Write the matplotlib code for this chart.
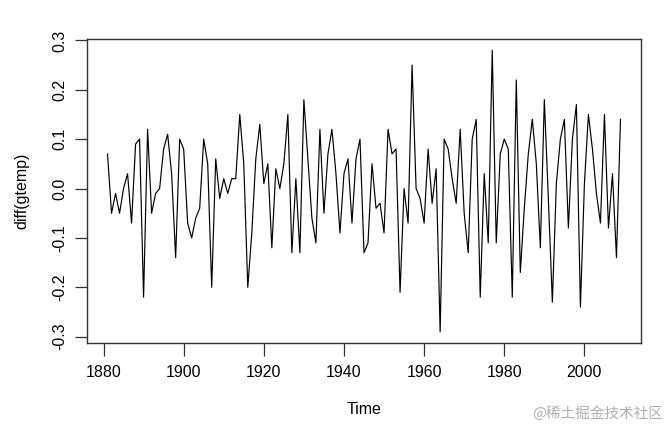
import matplotlib
matplotlib.use("Agg")
import matplotlib.pyplot as plt
import numpy as np

start_year = 1881
diff_gtemp = [
    0.07, -0.05, -0.01, -0.05, 0.00, 0.03, -0.07, 0.09, 0.10, -0.22,   # 1881-1890
    0.12, -0.05, -0.01, 0.00, 0.08, 0.11, 0.03, -0.14, 0.10, 0.08,     # 1891-1900
    -0.07, -0.10, -0.06, -0.04, 0.10, 0.05, -0.20, 0.06, -0.02, 0.02,  # 1901-1910
    -0.01, 0.02, 0.02, 0.15, 0.05, -0.20, -0.09, 0.06, 0.13, 0.01,     # 1911-1920
    0.05, -0.12, 0.04, 0.00, 0.05, 0.15, -0.13, 0.02, -0.13, 0.18,     # 1921-1930
    0.06, -0.06, -0.11, 0.12, -0.05, 0.07, 0.12, 0.03, -0.09, 0.03,    # 1931-1940
    0.06, -0.07, 0.06, 0.10, -0.13, -0.11, 0.05, -0.04, -0.03, -0.09,  # 1941-1950
    0.12, 0.07, 0.08, -0.21, 0.00, -0.07, 0.25, 0.00, -0.02, -0.07,    # 1951-1960
    0.08, -0.03, 0.04, -0.29, 0.10, 0.08, 0.02, -0.03, 0.12, -0.05,    # 1961-1970
    -0.13, 0.10, 0.14, -0.22, 0.03, -0.11, 0.28, -0.11, 0.07, 0.10,    # 1971-1980
    0.08, -0.22, 0.22, -0.17, -0.04, 0.07, 0.14, 0.05, -0.12, 0.18,    # 1981-1990
    -0.02, -0.23, 0.01, 0.10, 0.14, -0.08, 0.10, 0.17, -0.24, 0.01,    # 1991-2000
    0.15, 0.08, -0.01, -0.07, 0.15, -0.08, 0.03, -0.14, 0.14,          # 2001-2009
]
years = np.arange(start_year, start_year + len(diff_gtemp))
x_ticks = [1880, 1900, 1920, 1940, 1960, 1980, 2000]
y_ticks = [-0.3, -0.2, -0.1, 0.0, 0.1, 0.2, 0.3]

plt.rcParams['font.family'] = ['Liberation Sans', 'DejaVu Sans']

W, H = 669, 429
fig = plt.figure(figsize=(W / 100, H / 100), dpi=100)
left, right, top, bottom = 87, 641, 39, 343
ax = fig.add_axes([left / W, 1 - bottom / H, (right - left) / W, (bottom - top) / H])

ax.plot(years, diff_gtemp, color='black', lw=0.85)

xmin, xmax = years.min(), years.max()
pad = 0.04 * (xmax - xmin)
ax.set_xlim(xmin - pad, xmax + pad)
ymin, ymax = min(diff_gtemp), max(diff_gtemp)
pad = 0.04 * (ymax - ymin)
ax.set_ylim(ymin - pad, ymax + pad)

ax.set_xticks(x_ticks)
ax.set_xticklabels([str(t) for t in x_ticks])
ax.set_yticks(y_ticks)
ax.set_yticklabels([f"{t:.1f}" for t in y_ticks], rotation=90, va='center')

ax.tick_params(axis='both', direction='out', length=9, width=0.9, color='#333333',
               labelsize=11.5, pad=7, labelcolor='black')
ax.tick_params(axis='y', pad=5)

for s in ax.spines.values():
    s.set_linewidth(1.0)
    s.set_color('#333333')

fig.text((left + right) / 2 / W, 1 - 410 / H, "Time", ha='center', va='center', fontsize=11.5)
fig.text(22 / W, 1 - 191 / H, "diff(gtemp)", ha='center', va='center', rotation=90, fontsize=11.5)

fig.text(663 / W, 1 - 413 / H, "@稀土掘金技术社区", ha='right', va='center', fontsize=10.5,
         color='#b0b0b0', family=['Noto Sans CJK SC', 'DejaVu Sans'])

fig.savefig("out.png", dpi=100)
